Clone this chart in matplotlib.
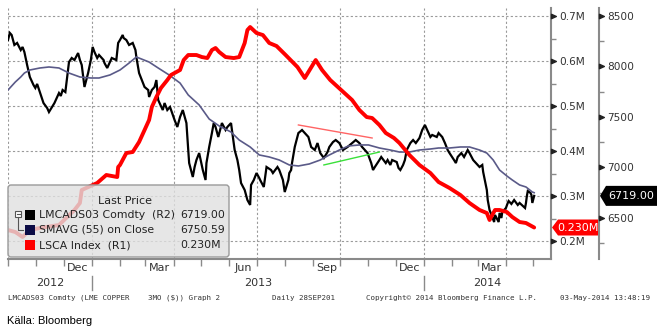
import matplotlib
matplotlib.use("Agg")
import matplotlib.pyplot as plt
import matplotlib.dates as mdates
import matplotlib.ticker as mticker
import matplotlib.transforms as mtransforms
from matplotlib.patches import FancyBboxPatch, Polygon, Rectangle
from matplotlib.path import Path
import pandas as pd

# ---- LME copper 3M (USD/t), daily closes ----
price_dates = [
    "2012-10-01", "2012-10-03", "2012-10-05", "2012-10-08", "2012-10-11", "2012-10-15", "2012-10-17",
    "2012-10-19", "2012-10-22", "2012-10-25", "2012-10-29", "2012-10-31", "2012-11-02", "2012-11-06",
    "2012-11-09", "2012-11-13", "2012-11-15", "2012-11-19", "2012-11-21", "2012-11-26", "2012-11-28",
    "2012-11-30", "2012-12-03", "2012-12-05", "2012-12-07", "2012-12-10", "2012-12-13", "2012-12-17",
    "2012-12-19", "2012-12-21", "2012-12-24", "2012-12-28", "2012-12-31", "2013-01-02", "2013-01-04",
    "2013-01-07", "2013-01-09", "2013-01-14", "2013-01-15", "2013-01-18", "2013-01-21", "2013-01-23",
    "2013-01-28", "2013-01-30", "2013-02-01", "2013-02-04", "2013-02-05", "2013-02-08", "2013-02-11",
    "2013-02-15", "2013-02-18", "2013-02-19", "2013-02-22", "2013-02-25", "2013-02-28", "2013-03-04",
    "2013-03-05", "2013-03-08", "2013-03-11", "2013-03-13", "2013-03-15", "2013-03-20", "2013-03-22",
    "2013-03-25", "2013-03-28", "2013-04-02", "2013-04-05", "2013-04-08", "2013-04-11", "2013-04-15",
    "2013-04-16", "2013-04-17", "2013-04-18", "2013-04-22", "2013-04-24", "2013-04-26", "2013-04-29",
    "2013-05-03", "2013-05-06", "2013-05-07", "2013-05-10", "2013-05-13", "2013-05-15", "2013-05-17",
    "2013-05-20", "2013-05-22", "2013-05-24", "2013-05-28", "2013-05-30", "2013-06-03", "2013-06-04",
    "2013-06-06", "2013-06-07", "2013-06-10", "2013-06-12", "2013-06-14", "2013-06-18", "2013-06-21",
    "2013-06-24", "2013-06-25", "2013-06-28", "2013-07-01", "2013-07-04", "2013-07-05", "2013-07-09",
    "2013-07-12", "2013-07-17", "2013-07-19", "2013-07-24", "2013-07-26", "2013-07-30", "2013-08-01",
    "2013-08-05", "2013-08-06", "2013-08-08", "2013-08-09", "2013-08-12", "2013-08-14", "2013-08-16",
    "2013-08-20", "2013-08-23", "2013-08-27", "2013-08-30", "2013-09-03", "2013-09-06", "2013-09-09",
    "2013-09-13", "2013-09-17", "2013-09-19", "2013-09-23", "2013-09-26", "2013-09-30", "2013-10-04",
    "2013-10-09", "2013-10-14", "2013-10-18", "2013-10-22", "2013-10-25", "2013-10-31", "2013-11-04",
    "2013-11-06", "2013-11-08", "2013-11-13", "2013-11-15", "2013-11-20", "2013-11-22", "2013-11-25",
    "2013-11-27", "2013-12-02", "2013-12-04", "2013-12-06", "2013-12-09", "2013-12-11", "2013-12-13",
    "2013-12-17", "2013-12-20", "2013-12-23", "2013-12-27", "2013-12-30", "2014-01-02", "2014-01-06",
    "2014-01-08", "2014-01-10", "2014-01-15", "2014-01-17", "2014-01-21", "2014-01-24", "2014-01-27",
    "2014-01-29", "2014-02-03", "2014-02-05", "2014-02-07", "2014-02-11", "2014-02-14", "2014-02-18",
    "2014-02-20", "2014-02-24", "2014-02-27", "2014-03-03", "2014-03-06", "2014-03-07", "2014-03-11",
    "2014-03-12", "2014-03-14", "2014-03-17", "2014-03-19", "2014-03-20", "2014-03-24", "2014-03-25",
    "2014-03-27", "2014-03-28", "2014-04-01", "2014-04-03", "2014-04-04", "2014-04-07", "2014-04-10",
    "2014-04-14", "2014-04-16", "2014-04-22", "2014-04-23", "2014-04-24", "2014-04-25", "2014-04-28",
    "2014-04-29", "2014-04-30", "2014-05-02",
]
price_close = [
    8262, 8332, 8312, 8213, 8233, 8163, 8193,
    8143, 8015, 7896, 7817, 7787, 7827, 7718,
    7638, 7589, 7549, 7609, 7638, 7737, 7708,
    7767, 7747, 7896, 8044, 8084, 8064, 8133,
    8064, 8015, 7797, 7935, 8064, 8193, 8143,
    8084, 8114, 8064, 8034, 7985, 8044, 8084,
    8064, 8233, 8262, 8312, 8282, 8262, 8213,
    8233, 8163, 8094, 7935, 7866, 7797, 7767,
    7698, 7767, 7797, 7866, 7668, 7569, 7638,
    7569, 7599, 7470, 7401, 7500, 7569, 7440,
    7302, 7173, 7044, 6906, 7005, 7074, 7143,
    6975, 6876, 7044, 7203, 7341, 7440, 7401,
    7302, 7371, 7440, 7371, 7401, 7440, 7371,
    7242, 7173, 7074, 6975, 6846, 6777, 6678,
    6629, 6827, 6876, 6945, 6896, 6876, 6807,
    7005, 6975, 6945, 7005, 6975, 6876, 6757,
    6876, 6945, 6975, 7044, 7203, 7272, 7341,
    7371, 7341, 7302, 7203, 7173, 7242, 7143,
    7094, 7153, 7203, 7252, 7272, 7242, 7173,
    7203, 7242, 7272, 7242, 7203, 7143, 7044,
    6975, 7005, 7074, 7104, 7044, 7074, 7025,
    7074, 7054, 6995, 6975, 7025, 7074, 7173,
    7242, 7272, 7242, 7292, 7371, 7421, 7341,
    7302, 7322, 7302, 7341, 7302, 7242, 7173,
    7143, 7074, 7044, 7104, 7143, 7104, 7173,
    7143, 7074, 7044, 7005, 7025, 6955, 6777,
    6678, 6579, 6510, 6460, 6530, 6460, 6550,
    6500, 6559, 6599, 6649, 6668, 6639, 6678,
    6629, 6649, 6599, 6649, 6718, 6767, 6748,
    6728, 6649, 6719.00,
]

# ---- 55-day simple moving average of the close ----
sma_dates = [
    "2012-10-01", "2012-10-09", "2012-10-15", "2012-10-19", "2012-10-25", "2012-11-05", "2012-11-15",
    "2012-11-26", "2012-12-07", "2012-12-19", "2012-12-31", "2013-01-09", "2013-01-21", "2013-02-01",
    "2013-02-11", "2013-02-19", "2013-03-05", "2013-03-15", "2013-03-27", "2013-04-08", "2013-04-17",
    "2013-04-29", "2013-05-10", "2013-05-21", "2013-06-03", "2013-06-12", "2013-06-24", "2013-07-04",
    "2013-07-15", "2013-07-26", "2013-08-06", "2013-08-16", "2013-08-28", "2013-09-09", "2013-09-19",
    "2013-09-30", "2013-10-10", "2013-10-22", "2013-11-01", "2013-11-13", "2013-11-25", "2013-12-05",
    "2013-12-16", "2013-12-27", "2014-01-08", "2014-01-17", "2014-01-29", "2014-02-10", "2014-02-20",
    "2014-03-03", "2014-03-11", "2014-03-18", "2014-03-25", "2014-04-02", "2014-04-08", "2014-04-16",
    "2014-04-23", "2014-04-30", "2014-05-02",
]
sma_values = [
    7767, 7846, 7896, 7935, 7965, 7985, 7995,
    7985, 7935, 7896, 7886, 7886, 7916, 7965,
    8034, 8094, 8044, 7985, 7916, 7836, 7718,
    7619, 7480, 7411, 7351, 7272, 7203, 7124,
    7104, 7074, 7025, 7015, 7035, 7074, 7124,
    7173, 7213, 7223, 7223, 7193, 7173, 7153,
    7153, 7173, 7183, 7193, 7193, 7203, 7203,
    7173, 7143, 7074, 6975, 6916, 6876, 6827,
    6807, 6757, 6750.59,
]

# ---- LME copper warehouse stocks (tonnes) ----
stock_dates = [
    "2012-10-01", "2012-10-09", "2012-10-17", "2012-10-25", "2012-11-05", "2012-11-26", "2012-12-13",
    "2012-12-19", "2012-12-21", "2013-01-07", "2013-01-17", "2013-01-29", "2013-01-30", "2013-02-01",
    "2013-02-08", "2013-02-15", "2013-02-22", "2013-02-28", "2013-03-05", "2013-03-08", "2013-03-13",
    "2013-03-18", "2013-03-25", "2013-03-29", "2013-04-08", "2013-04-12", "2013-04-17", "2013-04-26",
    "2013-05-02", "2013-05-08", "2013-05-13", "2013-05-17", "2013-05-21", "2013-05-28", "2013-06-06",
    "2013-06-12", "2013-06-18", "2013-06-21", "2013-06-24", "2013-07-01", "2013-07-08", "2013-07-15",
    "2013-07-23", "2013-08-02", "2013-08-15", "2013-08-23", "2013-08-29", "2013-09-04", "2013-09-11",
    "2013-09-20", "2013-10-02", "2013-10-14", "2013-10-22", "2013-10-30", "2013-11-05", "2013-11-13",
    "2013-11-20", "2013-11-29", "2013-12-05", "2013-12-16", "2013-12-27", "2014-01-08", "2014-01-17",
    "2014-01-29", "2014-02-10", "2014-02-20", "2014-03-03", "2014-03-11", "2014-03-14", "2014-03-20",
    "2014-03-25", "2014-04-02", "2014-04-08", "2014-04-16", "2014-04-23", "2014-05-02",
]
stock_values = [
    224400, 220000, 208900, 224400, 228900, 235600, 268900,
    284400, 313300, 328900, 346700, 342200, 364400, 368900,
    395500, 397800, 420000, 446600, 468900, 497700, 520000,
    540000, 557700, 568900, 580000, 602200, 613300, 613300,
    608800, 606600, 624400, 628900, 620000, 608800, 606600,
    608800, 640000, 668800, 675500, 662200, 657700, 640000,
    633300, 613300, 586600, 562200, 582200, 602200, 580000,
    557700, 535500, 513300, 491100, 475500, 473300, 457800,
    440000, 428900, 417800, 391100, 368900, 351100, 331100,
    317800, 302200, 284400, 268900, 262200, 246700, 268900,
    268900, 264400, 253300, 242200, 240000, 230000,
]

# ---- hand-drawn trend lines on the price ----
resist_dates = ["2013-08-16", "2013-11-05"]
resist_values = [7421, 7292]
support_dates = ["2013-09-13", "2013-11-13"]
support_values = [7025, 7153]

price_ticks = [6500, 7000, 7500, 8000, 8500]
stock_ticks = [200000, 300000, 400000, 500000, 600000, 700000]
quarter_months = ["Dec", "Mar", "Jun", "Sep"]

legend_rows = [
    ("LMCADS03 Comdty  (R2)", "black", f"{price_close[-1]:.2f}"),
    ("SMAVG (55) on Close", "#0b0b45", f"{sma_values[-1]:.2f}"),
    ("LSCA Index  (R1)", "#ff0000", f"{stock_values[-1] / 1e6:.3f}M"),
]

# ---------------------------------------------------------------
W, H, DPI = 657, 333, 100
fig = plt.figure(figsize=(W / DPI, H / DPI), dpi=DPI, facecolor="white")

L, R, T, B = 8, 551, 8, 259
ax = fig.add_axes([L / W, 1 - B / H, (R - L) / W, (B - T) / H])
ax2 = ax.twinx()

AXC = "#8a8a8a"
TXT = "#333333"
GRID = "#9a9a9a"
FONT = "DejaVu Sans"
plt.rcParams["font.family"] = FONT

x_lo, x_hi = pd.Timestamp("2012-10-01"), pd.Timestamp("2014-05-20 12:00")
ax.set_xlim(x_lo, x_hi)
ax.set_ylim(6094, 8579)
ax2.set_ylim(160000, 717800)

pd_price = pd.to_datetime(price_dates)
pd_sma = pd.to_datetime(sma_dates)
pd_stock = pd.to_datetime(stock_dates)

ax.plot(pd_price, price_close, color="black", lw=1.6, zorder=3, solid_joinstyle="miter")
ax.plot(pd_sma, sma_values, color="#5a5a88", lw=1.2, zorder=4)
ax.plot(pd.to_datetime(resist_dates), resist_values, color="#ff6464", lw=1.0, zorder=5)
ax.plot(pd.to_datetime(support_dates), support_values, color="#3ae03a", lw=1.0, zorder=5)
ax2.plot(pd_stock, stock_values, color="#ff0000", lw=2.8, zorder=3,
         solid_joinstyle="round", solid_capstyle="round")

# spines
for s in ["left", "top"]:
    ax.spines[s].set_visible(False)
for s in ["left", "top", "bottom"]:
    ax2.spines[s].set_visible(False)
ax.spines["bottom"].set_color(AXC)
ax.spines["bottom"].set_linewidth(1.5)
ax.spines["right"].set_color(AXC)
ax.spines["right"].set_linewidth(1.5)
ax.spines["right"].set_position(("outward", 48 * 72 / DPI))
ax2.spines["right"].set_color(AXC)
ax2.spines["right"].set_linewidth(1.5)

# y axes
ax.yaxis.tick_right()
ax.yaxis.set_major_locator(mticker.FixedLocator(price_ticks))
ax.yaxis.set_minor_locator(mticker.MultipleLocator(250))
ax.yaxis.set_major_formatter(mticker.FuncFormatter(lambda v, p: f"{v:.0f}"))
ax2.yaxis.set_major_locator(mticker.FixedLocator(stock_ticks))
ax2.yaxis.set_minor_locator(mticker.MultipleLocator(50000))
ax2.yaxis.set_major_formatter(mticker.FuncFormatter(lambda v, p: f"{v / 1e6:.1f}M"))
for a in (ax, ax2):
    a.tick_params(axis="y", which="major", length=0, pad=6, labelsize=7.6, labelcolor=TXT)
    a.tick_params(axis="y", which="minor", length=3.5, width=1, color=AXC, direction="out")

# triangular tick markers
tri = Path([(0, -0.45), (0, 0.45), (1, 0), (0, -0.45)],
           [Path.MOVETO, Path.LINETO, Path.LINETO, Path.CLOSEPOLY])
shift = mtransforms.ScaledTranslation(48 / DPI, 0, fig.dpi_scale_trans)
tr_price = mtransforms.blended_transform_factory(ax.transAxes, ax.transData) + shift
tr_stock = mtransforms.blended_transform_factory(ax2.transAxes, ax2.transData)
ax.plot([1] * len(price_ticks), price_ticks, ls="none", marker=tri, ms=7, color="#222222",
        transform=tr_price, clip_on=False, zorder=6)
ax2.plot([1] * len(stock_ticks), stock_ticks, ls="none", marker=tri, ms=7, color="#222222",
         transform=tr_stock, clip_on=False, zorder=6)

# x axis
ax.xaxis.set_major_locator(mdates.MonthLocator(bymonth=[1, 4, 7, 10]))
ax.xaxis.set_minor_locator(mdates.MonthLocator())
ax.xaxis.set_major_formatter(mticker.NullFormatter())
ax.xaxis.set_minor_formatter(mticker.NullFormatter())
ax.tick_params(axis="x", which="both", length=5, width=1, color=AXC, direction="out")
ax.grid(axis="x", which="major", color=GRID, ls=(0, (2, 2)), lw=0.8)
tr_grid = mtransforms.blended_transform_factory(ax.transAxes, ax2.transData)
for v in stock_ticks:
    ax.plot([0, 1], [v, v], transform=tr_grid, color=GRID, ls=(0, (2, 2)), lw=0.8, zorder=1.5)

# overlay in pixel units for annotations
lay = fig.add_axes([0, 0, 1, 1], zorder=10)
lay.set_xlim(0, W)
lay.set_ylim(H, 0)
lay.axis("off")
lay.patch.set_alpha(0)


def to_px(a, x, y):
    dx, dy = a.transData.transform((x, y))
    return dx, H - dy


# month labels centred on quarter-ending months, year labels centred on year spans
for m in pd.date_range(x_lo, x_hi, freq="MS"):
    name = m.strftime("%b")
    if name in quarter_months:
        mid = m + pd.Timedelta(days=15)
        px, _ = to_px(ax, mdates.date2num(mid), 7000)
        lay.text(px, 268, name, ha="center", va="center", fontsize=8, color=TXT)

year_edges = [x_lo] + list(pd.date_range(x_lo, x_hi, freq="YS")) + [x_hi]
for a0, a1 in zip(year_edges[:-1], year_edges[1:]):
    p0, _ = to_px(ax, mdates.date2num(a0), 7000)
    p1, _ = to_px(ax, mdates.date2num(a1), 7000)
    lay.text((p0 + p1) / 2, 283, str(a0.year), ha="center", va="center", fontsize=8, color=TXT)
for ys in pd.date_range(x_lo, x_hi, freq="YS"):
    px, _ = to_px(ax, mdates.date2num(ys), 7000)
    lay.plot([px, px], [276, 290], color=AXC, lw=1)

# legend panel
lay.add_patch(FancyBboxPatch((8, 185), 221, 72, boxstyle="round,pad=0,rounding_size=3",
                             fc=(0.88, 0.88, 0.88, 0.8), ec="#9a9a9a", lw=1))
lay.text(125, 201, "Last Price", ha="center", va="center", fontsize=8, color="#222222")
for i, (label, col, val) in enumerate(legend_rows):
    yc = 215 + 15 * i
    lay.add_patch(Rectangle((25, yc - 5), 10, 10, fc=col, ec="none"))
    lay.text(39, yc, label, ha="left", va="center", fontsize=7.8, color="#222222")
    lay.text(180, yc, val, ha="left", va="center", fontsize=7.8, color="#222222")
lay.add_patch(Rectangle((15, 211), 6, 6, fc="white", ec="#555555", lw=0.8))
lay.plot([16.5, 19.5], [214, 214], color="#555555", lw=0.8)
lay.plot([18, 18, 23], [217, 230, 230], color="#555555", lw=0.8)

# last-value tags
_, yb = to_px(ax, 0, price_close[-1])
lay.add_patch(Polygon([(600, yb), (606, yb - 10), (657, yb - 10), (657, yb + 10), (606, yb + 10)],
                      closed=True, fc="black", ec="none"))
lay.text(631, yb, f"{price_close[-1]:.2f}", ha="center", va="center", fontsize=8, color="white")
_, yr = to_px(ax2, 0, stock_values[-1])
lay.add_patch(Polygon([(552, yr), (558, yr - 8), (598, yr - 8), (598, yr + 8), (558, yr + 8)],
                      closed=True, fc="#ff0000", ec="none"))
lay.text(578, yr, f"{stock_values[-1] / 1e6:.3f}M", ha="center", va="center", fontsize=8, color="white")

# footer
MONO = "DejaVu Sans Mono"
lay.text(8, 298, "LMCADS03 Comdty (LME COPPER", ha="left", va="center", fontsize=5.4, family=MONO, color=TXT)
lay.text(148, 298, "3MO ($)) Graph 2", ha="left", va="center", fontsize=5.4, family=MONO, color=TXT)
lay.text(272, 298, "Daily 28SEP201", ha="left", va="center", fontsize=5.4, family=MONO, color=TXT)
lay.text(366, 298, "Copyright\u00a9 2014 Bloomberg Finance L.P.", ha="left", va="center", fontsize=5.4,
         family=MONO, color=TXT)
lay.text(560, 298, "03-May-2014 13:48:19", ha="left", va="center", fontsize=5.4, family=MONO, color=TXT)
lay.text(7, 321, "Källa: Bloomberg", ha="left", va="center", fontsize=8, family="Liberation Sans",
         color="black")

fig.savefig("out.png", dpi=DPI, facecolor="white")
